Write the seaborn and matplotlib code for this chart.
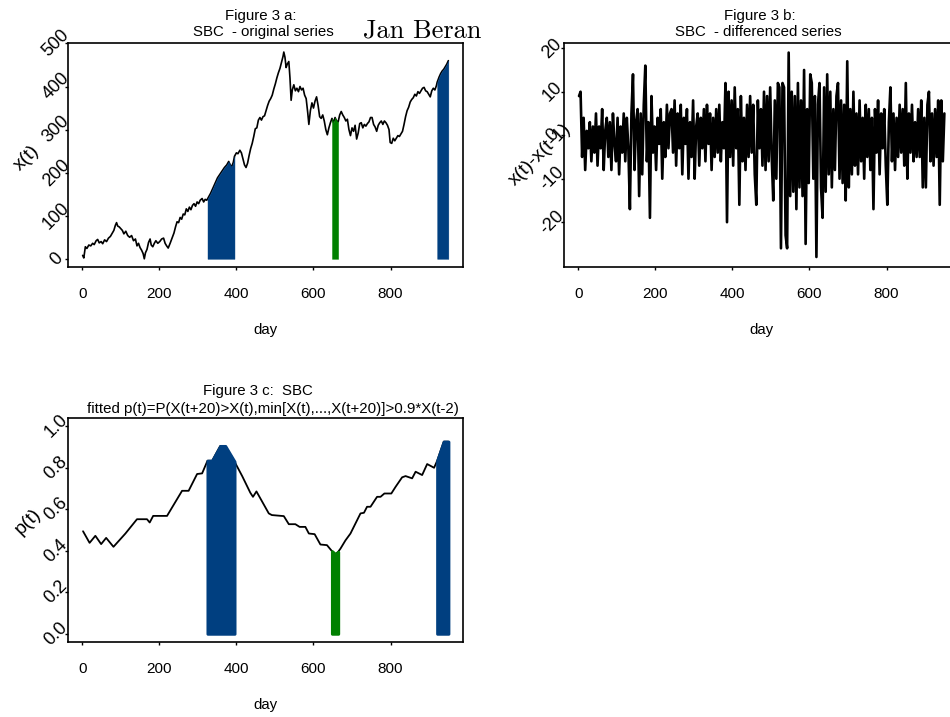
import numpy as np
import pandas as pd
import seaborn as sns
import matplotlib
matplotlib.use("Agg")
import matplotlib.pyplot as plt

# ---------------- data ----------------
# Figure 3 a: original series (day, value)
a_day = [1, 4, 8, 12, 17, 22, 27, 31, 36, 40, 44, 49, 53, 58, 63, 68, 73, 78, 82, 86,
         89, 92, 96, 100, 104, 108, 113, 118, 123, 128, 133, 138, 142, 146, 150, 154, 158, 161, 164, 168,
         172, 176, 179, 183, 187, 191, 196, 201, 206, 211, 215, 219, 223, 228, 233, 238, 242, 246, 250, 254,
         258, 262, 266, 270, 274, 278, 282, 286, 290, 294, 298, 302, 306, 311, 315, 319, 323, 325, 333, 339,
         345, 351, 357, 363, 369, 375, 380, 384, 388, 392, 395, 400, 404, 409, 413, 417, 421, 425, 429, 433,
         437, 441, 445, 449, 453, 457, 461, 465, 469, 473, 477, 481, 485, 489, 493, 497, 501, 505, 509, 513,
         517, 521, 523, 526, 529, 532, 536, 539, 542, 545, 549, 553, 557, 561, 565, 569, 573, 577, 581, 585,
         588, 592, 596, 600, 604, 608, 612, 616, 620, 624, 628, 632, 636, 640, 644, 648, 652, 656, 660, 664,
         668, 672, 676, 680, 684, 688, 692, 696, 700, 704, 708, 712, 716, 720, 724, 728, 732, 736, 740, 744,
         748, 752, 756, 760, 764, 768, 772, 776, 780, 784, 788, 792, 796, 799, 803, 807, 811, 815, 819, 823,
         827, 831, 835, 839, 843, 847, 851, 855, 859, 863, 867, 871, 875, 879, 883, 887, 891, 895, 899, 903,
         907, 911, 915, 919, 921, 926, 930, 934, 938, 942, 946, 950]
a_val = [8, 2, 28, 24, 32, 30, 36, 33, 42, 45, 37, 40, 35, 44, 40, 48, 52, 60, 66, 78,
         84, 76, 74, 70, 66, 58, 64, 54, 50, 54, 42, 46, 30, 36, 26, 20, 12, 0, 14, 22,
         38, 46, 32, 28, 36, 42, 36, 40, 46, 48, 36, 30, 25, 36, 48, 60, 74, 86, 84, 96,
         92, 104, 102, 116, 110, 120, 114, 124, 128, 122, 132, 128, 136, 140, 132, 138, 136, 139, 152, 164,
         176, 188, 196, 204, 212, 218, 226, 218, 214, 224, 238, 246, 244, 252, 246, 232, 218, 212, 222, 240,
         256, 268, 284, 302, 304, 322, 328, 322, 330, 332, 344, 356, 366, 372, 380, 394, 406, 420, 432, 442,
         456, 470, 480, 468, 444, 452, 458, 420, 368, 392, 404, 390, 396, 388, 400, 392, 396, 380, 372, 340,
         312, 344, 362, 350, 366, 376, 356, 330, 326, 334, 320, 300, 288, 304, 316, 326, 316, 328, 320, 318,
         334, 342, 334, 328, 320, 324, 300, 286, 304, 296, 310, 278, 292, 314, 316, 304, 312, 308, 314, 318,
         328, 328, 312, 306, 296, 310, 316, 320, 312, 320, 316, 310, 300, 270, 268, 280, 274, 280, 286, 284,
         290, 296, 312, 330, 344, 352, 364, 370, 374, 382, 378, 388, 384, 390, 396, 398, 390, 388, 382, 376,
         390, 396, 392, 402, 410, 422, 430, 436, 440, 446, 452, 460]

# Figure 3 b: differenced series, one value every 4 days starting at day 2
b_val = [9, 10, -5, 4, -8, 1, -3, 3, -6, 2,
         -4, 5, -7, 2, -3, 6, -8, 1, 4, -5,
         3, -8, 5, -2, -6, 4, -9, 2, -4, 5,
         -6, 4, -3, -17, 5, 14, -8, 3, 6, -14,
         5, -9, 7, 16, -6, 3, -19, 9, -4, 2,
         -8, 4, -2, 6, -10, 3, -5, 7, -3, 5,
         6, -4, 8, -7, 5, -3, 7, -9, 4, -2,
         6, -10, 3, -5, 8, -10, 2, 5, -7, 4,
         -3, 6, -6, 7, -2, 5, -8, 4, -5, 6,
         -4, 7, -6, 3, -3, 12, -20, 10, -5, 8,
         -7, 11, -3, 6, -16, 9, -6, 4, -8, 7,
         -5, 9, -4, 7, -9, -16, 8, -3, 6, -7,
         10, -8, 9, -6, 11, -5, -15, 8, -10, 12,
         11, -26, 12, 11, -23, -26, 19, -14, 10, -13,
         9, -17, 12, -12, 8, -14, 15, -25, 6, -11,
         14, 12, -10, 9, -28, 7, 12, -12, -19, 11,
         -13, 14, -9, 10, -12, 6, -8, 9, 12, -10,
         8, -11, 7, -15, 17, -12, 6, -9, 10, -7,
         5, -9, 8, -6, 4, -10, 7, -5, 6, -8,
         4, -17, 6, -4, 8, -9, 5, -3, 6, -7,
         -16, 3, 11, -6, 5, -8, 4, -5, 7, -4,
         6, -7, 12, -10, 5, -4, 7, -6, 3, -5,
         6, -5, 8, -12, 4, -12, 7, 10, -6, 5,
         -7, 6, -5, 8, -16, 8, -6, 5]
b_day = list(range(2, 2 + 4 * len(b_val), 4))

# Figure 3 c: fitted p(t)
c_day = [2, 19, 34, 49, 62, 81, 112, 142, 168, 175, 184, 220, 259, 276, 298, 311, 325, 337, 358, 371,
         395, 415, 436, 443, 452, 484, 492, 523, 536, 553, 564, 579, 588, 603, 618, 635, 648, 657, 664, 670,
         683, 696, 722, 731, 739, 748, 765, 774, 784, 802, 813, 830, 839, 856, 865, 882, 895, 913, 921, 938, 950]
c_val = [0.494, 0.438, 0.472, 0.432, 0.462, 0.419, 0.483, 0.552, 0.552, 0.536, 0.568, 0.568, 0.689, 0.689,
         0.770, 0.773, 0.834, 0.834, 0.905, 0.905, 0.830, 0.760, 0.680, 0.660, 0.686, 0.580, 0.572, 0.567,
         0.528, 0.528, 0.515, 0.515, 0.483, 0.480, 0.430, 0.427, 0.398, 0.383, 0.395, 0.410, 0.450, 0.483,
         0.580, 0.583, 0.612, 0.612, 0.660, 0.660, 0.676, 0.676, 0.708, 0.754, 0.760, 0.749, 0.781, 0.765,
         0.818, 0.800, 0.834, 0.926, 0.926]

blue_periods = [(325, 395), (921, 950)]
green_periods = [(648, 664)]
x_ticks = [0, 200, 400, 600, 800]

BLUE = "#003F80"
GREEN = "#008000"

# ---------------- style ----------------
sns.set_style("white")
plt.rcParams["font.family"] = ["Liberation Sans", "DejaVu Sans"]
plt.rcParams["axes.unicode_minus"] = False
for k in ("text.color", "axes.labelcolor", "xtick.color", "ytick.color"):
    plt.rcParams[k] = "black"

fig = plt.figure(figsize=(9.5, 7.17), dpi=100)
W, H = 950.0, 717.0


def make_axes(left, top, right, bottom):
    return fig.add_axes([left / W, 1 - bottom / H, (right - left) / W, (bottom - top) / H])


ax1 = make_axes(68, 43, 463, 267)
ax2 = make_axes(564, 43, 959, 267)
ax3 = make_axes(68, 418, 463, 642)

dfa = pd.DataFrame({"day": a_day, "x": a_val})
dfb = pd.DataFrame({"day": b_day, "d": b_val})
dfc = pd.DataFrame({"day": c_day, "p": c_val})

sns.lineplot(data=dfa, x="day", y="x", ax=ax1, color="black", linewidth=1.2,
             estimator=None, sort=False)
sns.lineplot(data=dfb, x="day", y="d", ax=ax2, color="black", linewidth=1.9,
             estimator=None, sort=False)
sns.lineplot(data=dfc, x="day", y="p", ax=ax3, color="black", linewidth=1.3,
             estimator=None, sort=False)


def shade(ax, df, col, periods, color, lw, rounded):
    d = df["day"].to_numpy()
    v = df[col].to_numpy()
    for lo, hi in periods:
        m = (d >= lo) & (d <= hi)
        coll = ax.fill_between(d, 0, v, where=m, color=color, linewidth=lw,
                               edgecolor=color, zorder=3)
        if rounded:
            coll.set_joinstyle("round")


shade(ax1, dfa, "x", blue_periods, BLUE, 0.3, False)
shade(ax1, dfa, "x", green_periods, GREEN, 0.3, False)
shade(ax3, dfc, "p", blue_periods, BLUE, 2.2, True)
shade(ax3, dfc, "p", green_periods, GREEN, 2.2, True)

ax1.set_ylim(-19, 501)
ax2.set_ylim(-30.3, 21.2)
ax3.set_ylim(-0.04, 1.04)
ax1.set_yticks([0, 100, 200, 300, 400, 500])
ax2.set_yticks([-20, -10, 0, 10, 20])
ax3.set_yticks([0, 0.2, 0.4, 0.6, 0.8, 1.0])
ax3.set_yticklabels(["0.0", "0.2", "0.4", "0.6", "0.8", "1.0"])

for ax in (ax1, ax2, ax3):
    ax.set_xlim(-37, 988)
    ax.set_xticks(x_ticks)
    for s in ax.spines.values():
        s.set_color("black")
        s.set_linewidth(1.2)
    ax.tick_params(axis="x", direction="out", length=2.5, width=1, color="black",
                   bottom=True, labelsize=11, pad=12)
    ax.tick_params(axis="y", direction="out", length=2.5, width=1, color="black",
                   left=True, labelsize=13, pad=6)
    for lab in ax.get_yticklabels():
        lab.set_rotation(45)
        lab.set_rotation_mode("anchor")
        lab.set_ha("center")
        lab.set_va("center")
    ax.set_xlabel("day", fontsize=10.8, labelpad=16)

ax1.set_ylabel("x(t)", fontsize=14, rotation=45, rotation_mode="anchor", ha="center", va="center")
ax1.yaxis.set_label_coords(-0.104, 0.487)
ax2.set_ylabel("x(t)-x(t-1)", fontsize=14, rotation=45, rotation_mode="anchor", ha="center", va="center")
ax2.yaxis.set_label_coords(-0.061, 0.50)
ax3.set_ylabel("p(t)", fontsize=14, rotation=45, rotation_mode="anchor", ha="center", va="center")
ax3.yaxis.set_label_coords(-0.101, 0.536)

# titles (two lines each)
ax1.text(0.489, 1.122, "Figure 3 a:", transform=ax1.transAxes, ha="center", va="center", fontsize=10.8)
ax1.text(0.494, 1.048, "SBC  - original series", transform=ax1.transAxes, ha="center", va="center", fontsize=10.8)
ax2.text(0.496, 1.122, "Figure 3 b:", transform=ax2.transAxes, ha="center", va="center", fontsize=10.8)
ax2.text(0.491, 1.048, "SBC  - differenced series", transform=ax2.transAxes, ha="center", va="center", fontsize=10.8)
ax3.text(0.480, 1.122, "Figure 3 c:  SBC", transform=ax3.transAxes, ha="center", va="center", fontsize=10.8)
ax3.text(0.519, 1.039, "fitted p(t)=P(X(t+20)>X(t),min[X(t),...,X(t+20)]>0.9*X(t-2)",
         transform=ax3.transAxes, ha="center", va="center", fontsize=10.8)

fig.text(363 / W, 1 - 37 / H, "Jan Beran", family=["cmr10", "DejaVu Serif"], fontsize=19,
         ha="left", va="baseline")

fig.savefig("out.png", dpi=100)
